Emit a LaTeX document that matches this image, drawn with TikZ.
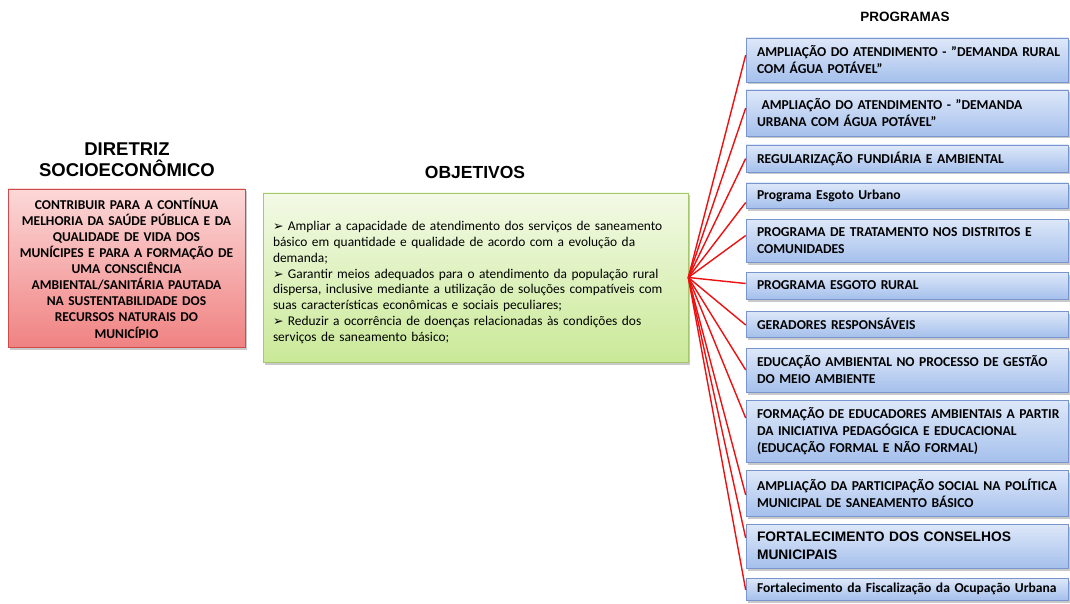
\documentclass[tikz,border=0pt]{standalone}
\usepackage{fontspec}
\setmainfont{Carlito}
\newfontfamily\arialf{Liberation Sans}
\newfontfamily\dejavu{DejaVu Sans}
\usetikzlibrary{shadows}
\definecolor{progtop}{RGB}{222,232,249}
\definecolor{progbot}{RGB}{165,192,236}
\definecolor{progborder}{RGB}{120,150,205}
\definecolor{redtop}{RGB}{252,216,216}
\definecolor{redbot}{RGB}{240,130,130}
\definecolor{redborder}{RGB}{205,75,75}
\definecolor{greentop}{RGB}{243,250,230}
\definecolor{greenbot}{RGB}{202,233,152}
\definecolor{greenborder}{RGB}{165,200,110}
\definecolor{linkred}{RGB}{238,16,16}
\newcommand{\arr}{{\dejavu\fontsize{12.5}{12}\selectfont ➢}}
\newcommand{\oneline}[1]{\mbox{#1}}
\newcommand{\dq}{\symbol{34}}
\tikzset{
  boxshadow/.style={drop shadow={shadow xshift=1.5pt, shadow yshift=-2.5pt, opacity=0.35, fill=black!60}},
  progbox/.style={draw=progborder, line width=0.6pt, top color=progtop, bottom color=progbot,
    boxshadow, minimum width=322pt, text width=300pt, inner xsep=0pt, inner ysep=0pt,
    align=left, font=\bfseries\fontsize{13.6}{17}\selectfont},
  title/.style={font=\arialf\bfseries, align=center, inner sep=0pt},
  link/.style={draw=linkred, line width=1.4pt},
}
\begin{document}
\begin{tikzpicture}[x=1pt,y=-1pt]
\useasboundingbox[fill=white] (0,0) rectangle (1070,604);

% titles
\node[title, font=\arialf\bfseries\fontsize{18.5}{21}\selectfont] (t1) at (127,160) {DIRETRIZ\\SOCIOECONÔMICO};
\node[title, font=\arialf\bfseries\fontsize{17.5}{18}\selectfont] (t2) at (475,172) {OBJETIVOS};
\node[title, font=\arialf\bfseries\fontsize{13.5}{16}\selectfont] (t3) at (905,17) {PROGRAMAS};

% left box
\node[draw=redborder, line width=0.6pt, top color=redtop, bottom color=redbot, boxshadow,
  minimum width=237pt, minimum height=158pt, text width=231pt, inner xsep=3pt, align=center,
  font=\bfseries\fontsize{13.5}{16.1}\selectfont] (dir) at (126.5,268)
  {CONTRIBUIR PARA A CONTÍNUA\\MELHORIA DA SAÚDE PÚBLICA E DA\\QUALIDADE DE VIDA DOS\\MUNÍCIPES E PARA A FORMAÇÃO DE\\UMA CONSCIÊNCIA\\AMBIENTAL/SANITÁRIA PAUTADA\\NA SUSTENTABILIDADE DOS\\RECURSOS NATURAIS DO\\MUNICÍPIO};

% middle box
\node[draw=greenborder, line width=0.6pt, top color=greentop, bottom color=greenbot, boxshadow,
  minimum width=425pt, minimum height=169pt, inner sep=0pt] (obj) at (475.5,277.5) {};
\node[text width=405pt, inner sep=0pt, align=left, font=\fontsize{13.4}{15.8}\selectfont]
  (objtxt) at ([yshift=-5pt]obj.center)
  {\arr{} Ampliar a capacidade de atendimento dos serviços de saneamento\\básico em quantidade e qualidade de acordo com a evolução da\\demanda;\\\arr{} Garantir meios adequados para o atendimento da população rural\\dispersa, inclusive mediante a utilização de soluções compatíveis com\\suas características econômicas e sociais peculiares;\\\arr{} Reduzir a ocorrência de doenças relacionadas às condições dos\\serviços de saneamento básico;};

% program boxes
\node[progbox, minimum height=44pt] (p1) at (907,60) {\oneline{AMPLIAÇÃO DO ATENDIMENTO - \dq DEMANDA RURAL}\\\oneline{COM ÁGUA POTÁVEL\dq}};
\node[progbox, minimum height=46pt] (p2) at (907,113) {\oneline{\ AMPLIAÇÃO DO ATENDIMENTO - \dq DEMANDA}\\\oneline{URBANA COM ÁGUA POTÁVEL\dq}};
\node[progbox, minimum height=27pt] (p3) at (907,158.5) {\oneline{REGULARIZAÇÃO FUNDIÁRIA E AMBIENTAL}};
\node[progbox, minimum height=25pt] (p4) at (907,195.5) {\oneline{Programa Esgoto Urbano}};
\node[progbox, minimum height=43pt] (p5) at (907,240.5) {\oneline{PROGRAMA DE TRATAMENTO NOS DISTRITOS E}\\\oneline{COMUNIDADES}};
\node[progbox, minimum height=27pt] (p6) at (907,285.5) {\oneline{PROGRAMA ESGOTO RURAL}};
\node[progbox, minimum height=26pt] (p7) at (907,324) {\oneline{GERADORES RESPONSÁVEIS}};
\node[progbox, minimum height=44pt] (p8) at (907,370) {\oneline{EDUCAÇÃO AMBIENTAL NO PROCESSO DE GESTÃO}\\\oneline{DO MEIO AMBIENTE}};
\node[progbox, minimum height=62pt] (p9) at (907,431) {\oneline{FORMAÇÃO DE EDUCADORES AMBIENTAIS A PARTIR}\\\oneline{DA INICIATIVA PEDAGÓGICA E EDUCACIONAL}\\\oneline{(EDUCAÇÃO FORMAL E NÃO FORMAL)}};
\node[progbox, minimum height=46pt] (p10) at (907,493) {\oneline{AMPLIAÇÃO DA PARTICIPAÇÃO SOCIAL NA POLÍTICA}\\\oneline{MUNICIPAL DE SANEAMENTO BÁSICO}};
\node[progbox, minimum height=44pt, font=\arialf\bfseries\fontsize{13.8}{18}\selectfont] (p11) at (907,546) {\oneline{FORTALECIMENTO DOS CONSELHOS}\\\oneline{MUNICIPAIS}};
\node[progbox, minimum height=22pt] (p12) at (907,589) {\oneline{Fortalecimento da Fiscalização da Ocupação Urbana}};

% connectors
\coordinate (hub) at (obj.east);
\draw[link] (hub) -- ([yshift=5pt]p1.west);
\draw[link] (hub) -- ([yshift=5pt]p2.west);
\draw[link] (hub) -- (p3.west);
\draw[link] (hub) -- ([yshift=-7pt]p4.west);
\draw[link] (hub) -- ([yshift=5pt]p5.west);
\draw[link] (hub) -- ([yshift=2pt]p6.west);
\draw[link] (hub) -- ([yshift=-1pt]p7.west);
\draw[link] (hub) -- (p8.west);
\draw[link] (hub) -- ([yshift=13pt]p9.west);
\draw[link] (hub) -- ([yshift=-2pt]p10.west);
\draw[link] (hub) -- ([yshift=8pt]p11.west);
\draw[link] (hub) -- ([yshift=-1pt]p12.west);
\end{tikzpicture}
\end{document}
